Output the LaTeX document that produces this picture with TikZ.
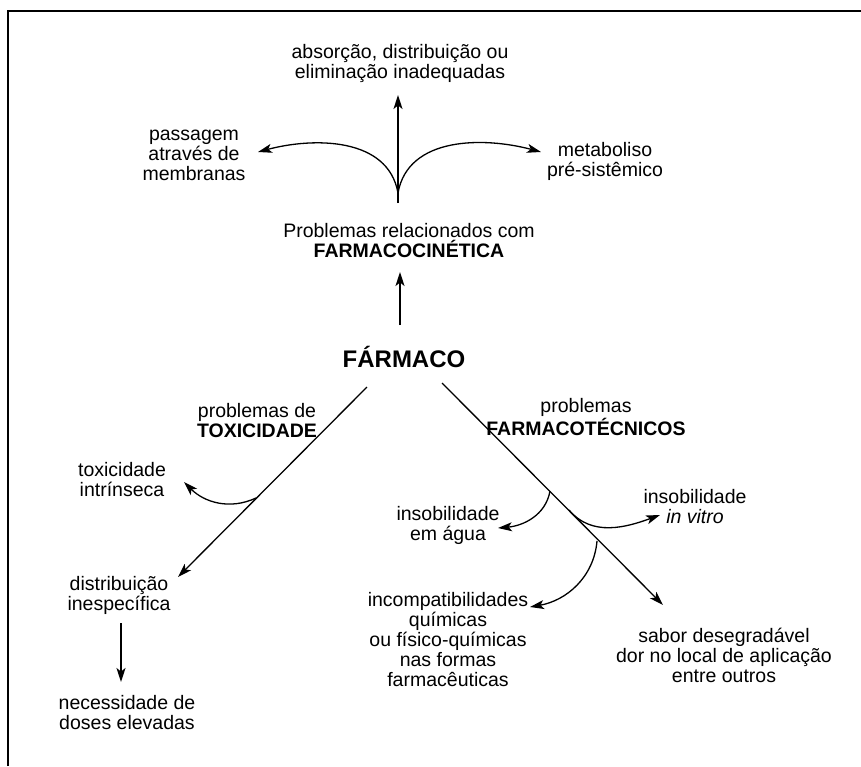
\documentclass[tikz,border=0pt]{standalone}
\usepackage{fontspec}
\setmainfont{Liberation Sans}
\usetikzlibrary{arrows.meta,positioning,calc}
\tikzset{
  >={Stealth[length=14pt,width=9pt,inset=3.5pt]},
  lab/.style={align=center,font=\fontsize{19.5}{20}\selectfont,inner sep=1pt},
  arr/.style={->,line width=1.6pt},
  carr/.style={->,line width=1.3pt},
}
\begin{document}
\begin{tikzpicture}[x=1pt,y=-1pt]
\useasboundingbox (0,0) rectangle (861,766);
% frame
\draw[line width=2pt] (8,766) -- (8,11) -- (861,11);
% farmacocinetica
\node[lab] (abs) at (400,63) {absorção, distribuição ou\\eliminação inadequadas};
\node[lab] (pass) at (194,155) {passagem\\através de\\membranas};
\node[lab] (meta) at (605,161) {metaboliso\\pré-sistêmico};
\node[lab] (pk) at (409,241) {Problemas relacionados com\\\textbf{FARMACOCINÉTICA}};
\node[font=\fontsize{24}{26}\selectfont\bfseries,inner sep=1pt] (farm) at (404,357) {FÁRMACO};
\coordinate (j) at (398,193);
\coordinate (jb) at (398,203);
\coordinate (up) at (398,95);
\coordinate (lp) at (258,152);
\coordinate (rp) at (541,152);
\draw[arr] (jb) -- (up);
\draw[carr] (j) to[out=100,in=15] (lp);
\draw[carr] (j) to[out=80,in=165] (rp);
\coordinate (fk) at (400,325);
\coordinate (pkt) at (400,272);
\draw[arr] (fk) -- (pkt);
% toxicidade
\node[lab] (tox) at (257,421) {problemas de\\\textbf{TOXICIDADE}};
\node[lab] (toxint) at (122,480) {toxicidade\\intrínseca};
\node[lab] (distr) at (119,595) {distribuição\\inespecífica};
\node[lab] (doses) at (127,713) {necessidade de\\doses elevadas};
\coordinate (ls) at (367,387);
\coordinate (le) at (178,577);
\draw[carr] (ls) -- (le);
\coordinate (t1) at (256,498);
\coordinate (t1e) at (184,482);
\draw[carr] (t1) to[out=205,in=-45] (t1e);
\coordinate (ds) at (121,623);
\coordinate (de) at (121,682);
\draw[arr] (ds) -- (de);
% farmacotecnicos
\node[lab] (tec) at (586,417) {problemas\\\textbf{FARMACOTÉCNICOS}};
\node[lab] (agua) at (448,525) {insobilidade\\em água};
\node[lab] (vitro) at (695,507) {insobilidade\\\textit{in vitro}};
\node[lab] (incomp) at (448,640) {incompatibilidades\\químicas\\ou físico-químicas\\nas formas\\farmacêuticas};
\node[lab] (sabor) at (724,655) {sabor desegradável\\dor no local de aplicação\\entre outros};
\coordinate (rs) at (442,383);
\coordinate (re) at (663,605);
\draw[carr] (rs) -- (re);
\coordinate (c1) at (550,491);
\coordinate (c1e) at (498,528);
\draw[carr] (c1) to[out=-100,in=5] (c1e);
\coordinate (c2) at (569,510);
\coordinate (c2e) at (660,515);
\draw[carr] (c2) to[out=-50,in=200] (c2e);
\coordinate (c3) at (597,541);
\coordinate (c3e) at (530,607);
\draw[carr] (c3) to[out=-95,in=10] (c3e);
\end{tikzpicture}
\end{document}
